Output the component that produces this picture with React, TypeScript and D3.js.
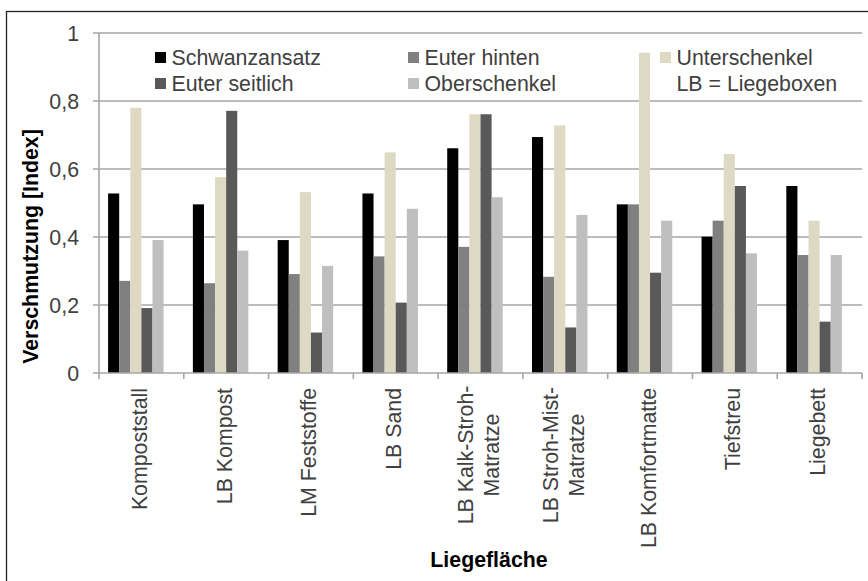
import React from "react";
import * as d3 from "d3";

const categories: string[][] = [
  ["Kompoststall"],
  ["LB Kompost"],
  ["LM Feststoffe"],
  ["LB Sand"],
  ["LB Kalk-Stroh-", "Matratze"],
  ["LB Stroh-Mist-", "Matratze"],
  ["LB Komfortmatte"],
  ["Tiefstreu"],
  ["Liegebett"],
];

const seriesNames = ["Schwanzansatz", "Euter hinten", "Unterschenkel", "Euter seitlich", "Oberschenkel", "LB = Liegeboxen"];
const seriesColors = ["#000000", "#808080", "#DDD9C3", "#595959", "#BFBFBF", "none"];

const schwanzansatz = [0.528, 0.496, 0.391, 0.528, 0.661, 0.694, 0.496, 0.401, 0.55];
const euterHinten = [0.271, 0.264, 0.291, 0.343, 0.371, 0.283, 0.496, 0.448, 0.347];
const unterschenkel = [0.78, 0.576, 0.532, 0.649, 0.761, 0.728, 0.942, 0.644, 0.448];
const euterSeitlich = [0.191, 0.771, 0.119, 0.207, 0.761, 0.134, 0.295, 0.55, 0.151];
const oberschenkel = [0.391, 0.36, 0.315, 0.483, 0.517, 0.465, 0.448, 0.352, 0.347];
const liegeboxen: (number | null)[] = [null, null, null, null, null, null, null, null, null];

const seriesValues = [schwanzansatz, euterHinten, unterschenkel, euterSeitlich, oberschenkel, liegeboxen];

const yTicks = [0, 0.2, 0.4, 0.6, 0.8, 1];
const yTickLabels = ["0", "0,2", "0,4", "0,6", "0,8", "1"];

const W = 868;
const H = 581;
const FONT = "'Liberation Sans', Arial, sans-serif";
const FS = 21.33;

export default function App() {
  const left = 99;
  const right = 862;
  const top = 33;
  const bottom = 373;

  const catIdx = categories.map((_, i) => String(i));
  const x0 = d3.scaleBand<string>().domain(catIdx).range([left, right]).padding(0);
  const x1 = d3
    .scaleBand<string>()
    .domain(seriesNames)
    .range([0, x0.step()])
    .paddingInner(0)
    .paddingOuter(0.82);
  const y = d3.scaleLinear().domain([0, 1]).range([bottom, top]);

  const gridColor = "#A6A6A6";
  const textColor = "#404040";

  const legendCols = [155, 408, 660];
  const legendRows = [52, 78];

  return (
    <div style={{ position: "fixed", left: 0, top: 0 }}>
      <svg width={W} height={H} style={{ display: "block", background: "#fff" }}>
        <rect x={6.5} y={11.5} width={W} height={H} fill="#fff" stroke="#222" strokeWidth={1.3} />

        {/* gridlines */}
        {yTicks.map((t) =>
          t === 0 ? null : (
            <line key={t} x1={left - 6} x2={right} y1={y(t)} y2={y(t)} stroke={gridColor} strokeWidth={1.6} />
          )
        )}
        {/* y tick labels */}
        {yTicks.map((t, i) => (
          <text
            key={"yl" + t}
            x={79}
            y={y(t) + 7.5}
            textAnchor="end"
            fontFamily={FONT}
            fontSize={FS}
            fill={textColor}
          >
            {yTickLabels[i]}
          </text>
        ))}

        {/* bars */}
        {categories.map((_, ci) =>
          seriesNames.map((s, si) => {
            const v = seriesValues[si][ci];
            if (v == null || seriesColors[si] === "none") return null;
            const bx = (x0(String(ci)) as number) + (x1(s) as number);
            return (
              <rect
                key={ci + "-" + si}
                x={bx}
                y={y(v)}
                width={x1.bandwidth()}
                height={y(0) - y(v)}
                fill={seriesColors[si]}
              />
            );
          })
        )}

        {/* axes */}
        <line x1={left} x2={left} y1={top} y2={bottom} stroke={gridColor} strokeWidth={1.6} />
        <line x1={left - 6} x2={right} y1={bottom} y2={bottom} stroke={gridColor} strokeWidth={1.6} />
        {d3.range(categories.length + 1).map((i) => {
          const tx = left + i * x0.step();
          return <line key={"xt" + i} x1={tx} x2={tx} y1={bottom} y2={bottom + 6} stroke={gridColor} strokeWidth={1.6} />;
        })}

        {/* category labels */}
        {categories.map((lines, ci) => {
          const cx = (x0(String(ci)) as number) + x0.bandwidth() / 2;
          const n = lines.length;
          return lines.map((ln, li) => {
            const bx = cx + (li - (n - 1) / 2) * 26 + 5.5;
            const anchor = n > 1 ? "middle" : "end";
            const yy = n > 1 ? 388 + 67 : 388;
            return (
              <text
                key={ci + "-" + li}
                transform={`translate(${bx},${yy}) rotate(-90)`}
                textAnchor={anchor}
                fontFamily={FONT}
                fontSize={FS}
                fill={textColor}
              >
                {ln}
              </text>
            );
          });
        })}

        {/* axis titles */}
        <text
          transform={`translate(37.5,246.5) rotate(-90)`}
          textAnchor="middle"
          fontFamily={FONT}
          fontSize={FS}
          fontWeight="bold"
          fill="#000"
        >
          Verschmutzung [Index]
        </text>
        <text x={489} y={567} textAnchor="middle" fontFamily={FONT} fontSize={FS} fontWeight="bold" fill="#000">
          Liegefläche
        </text>

        {/* legend */}
        {seriesNames.map((s, si) => {
          const col = si % 3;
          const row = Math.floor(si / 3);
          // legend order row-wise: Schwanzansatz, Euter hinten, Unterschenkel / Euter seitlich, Oberschenkel, LB
          const mx = legendCols[col];
          const my = legendRows[row];
          return (
            <g key={"lg" + si}>
              {seriesColors[si] !== "none" && <rect x={mx} y={my} width={11} height={11} fill={seriesColors[si]} />}
              <text x={mx + 16.5} y={my + 12.5} fontFamily={FONT} fontSize={FS} fill={textColor}>
                {s}
              </text>
            </g>
          );
        })}
      </svg>
    </div>
  );
}
